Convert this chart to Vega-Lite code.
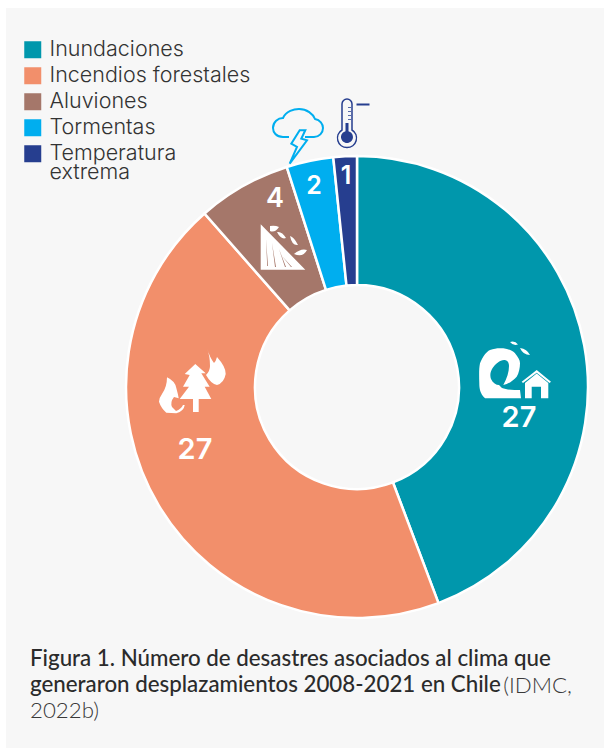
{
"$schema":"https://vega.github.io/schema/vega-lite/v6.json",
"width":598,"height":740,
"autosize":{"type":"none"},
"padding":{"left":6,"top":8,"right":0,"bottom":0},
"background":"#ffffff",
"view":{"fill":"#f7f7f7","stroke":null},
"config":{"style":{"guide-label":{"lineHeight":19}}},
"title":{"text":["Figura 1. Número de desastres asociados al clima que","generaron desplazamientos 2008-2021 en Chile"],"subtitle":"2022b)","orient":"top","anchor":"start","frame":"group","dx":24,"dy":714,"offset":0,"font":"Lato","fontSize":22.3,"fontWeight":500,"color":"#2b2b2b","lineHeight":26,"subtitleFont":"Lato","subtitleFontSize":22.3,"subtitleFontWeight":300,"subtitleColor":"#3a3a3a","subtitlePadding":3,"subtitleLineHeight":26},
"data":{"values":[
{"categoria":"Inundaciones","valor":27,"orden":1},
{"categoria":"Incendios forestales","valor":27,"orden":2},
{"categoria":"Aluviones","valor":4,"orden":3},
{"categoria":"Tormentas","valor":2,"orden":4},
{"categoria":"Temperatura extrema","valor":1,"orden":5}
]},
"layer":[
{"mark":{"type":"arc","outerRadius":231,"innerRadius":102,"stroke":"#ffffff","strokeWidth":2.5},
"encoding":{
"x":{"value":351},"y":{"value":379},
"theta":{"field":"valor","type":"quantitative","stack":true,"scale":{"domain":[0,61]}},
"order":{"field":"orden","type":"ordinal"},
"color":{"field":"categoria","type":"nominal","scale":{"domain":["Inundaciones","Incendios forestales","Aluviones","Tormentas","Temperatura extrema"],"range":["#0097ac","#f28f6b","#a5776a","#00aeef","#263e8f"]},
"legend":{"title":null,"orient":"none","legendX":16,"legendY":31,"symbolType":"square","symbolSize":289,"symbolStrokeWidth":0,"symbolOpacity":1,"labelFont":"Inter","labelFontSize":21.5,"labelFontWeight":300,"labelColor":"#333333","labelLimit":300,"rowPadding":3,"labelOffset":6,"labelExpr":"datum.label=='Temperatura extrema'?['Temperatura','extrema']:datum.label"}}
}},
{"transform":[{"filter":"datum.orden==1"}],"mark":{"type":"text","font":"Inter","fontWeight":600,"fontSize":29,"color":"#ffffff"},"encoding":{"x":{"value":513},"y":{"value":410},"text":{"field":"valor"}}},
{"transform":[{"filter":"datum.orden==2"}],"mark":{"type":"text","font":"Inter","fontWeight":600,"fontSize":29,"color":"#ffffff"},"encoding":{"x":{"value":189},"y":{"value":442},"text":{"field":"valor"}}},
{"transform":[{"filter":"datum.orden==3"}],"mark":{"type":"text","font":"Inter","fontWeight":600,"fontSize":27,"color":"#ffffff"},"encoding":{"x":{"value":269},"y":{"value":191},"text":{"field":"valor"}}},
{"transform":[{"filter":"datum.orden==4"}],"mark":{"type":"text","font":"Inter","fontWeight":600,"fontSize":25,"color":"#ffffff"},"encoding":{"x":{"value":308},"y":{"value":178},"text":{"field":"valor"}}},
{"transform":[{"filter":"datum.orden==5"}],"mark":{"type":"text","font":"Inter","fontWeight":600,"fontSize":25,"color":"#ffffff"},"encoding":{"x":{"value":340},"y":{"value":168},"text":{"field":"valor"}}},
{"transform":[{"filter":"datum.orden==1"}],"mark":{"type":"point","size":4,"filled":true,"opacity":1,"color":"#ffffff","shape":"M-30,28.3 C-35,24 -35.7,18 -35.7,13.3 C-36,4 -36,-2 -35,-6.7 C-32,-14 -29,-18 -25,-20 C-20,-22 -16,-22 -11.7,-21.7 C-6,-21 -2,-19 0,-16.7 C3,-13 5,-10 5,-6.7 C5,-2 4,3 1.7,6.7 C-2,11 -7,14 -11.7,15 C-8,8 -6,2 -6,-4 C-6,-8 -8,-10 -11,-10 C-15,-10 -20,-6 -23,-1 C-25,3 -25,6 -24,9 C-22,13 -19,15 -16,15 L-13,18 C-8,20 0,20 5,20 L6,28.3Z M-5,-28 Q0,-29.5 3,-25.5 Q-2,-24 -5,-28Z M5,-22 Q12,-21 15,-15 Q8,-15 5,-22Z M10,13 L21.7,3.5 L33.3,13 L33.3,28.3 L26,28.3 L26,16.7 L16.7,16.7 L16.7,28.3 L10,28.3Z M6.7,11.7 L21.7,0 L36,11.7 L34.5,13 L21.7,2.8 L8,13Z"},"encoding":{"x":{"value":509},"y":{"value":362}}},
{"transform":[{"filter":"datum.orden==2"}],"mark":{"type":"point","size":4,"filled":true,"opacity":1,"color":"#ffffff","shape":"M2.3,-16 L12.7,-6.7 L8.3,-6.7 L16.7,6.7 L11.7,6.7 L18.3,19 L5.7,19 L5.7,32 L0,32 L0,19 L-13.3,19 L-4,6.7 L-10,6.7 L-3.3,-5 L-8.3,-6Z M14,-31.7 Q17,-22 21,-17 Q23,-19 24,-23 Q33,-13 32.7,-6 Q31,3 24,5 Q18,4 13,-5 Q17,-9 17,-14 Q17,-24 14,-31.7Z M-26,-2.7 Q-18,1 -16.7,8 Q-15,14 -14.3,18.3 L-19,17 Q-23,22 -21,27 L-17,31 Q-12,29 -10,25 L-8.3,25 Q-9,31 -16.7,33.3 L-26.7,32.7 Q-32,28 -34,21.7 Q-34,18 -31,14 Q-26,7 -26,-2.7Z"},"encoding":{"x":{"value":187},"y":{"value":372}}},
{"transform":[{"filter":"datum.orden==3"}],"mark":{"type":"point","size":4,"filled":true,"opacity":1,"color":"#ffffff","shape":"M-22.3,-22.7 L-22.3,22.7 L22.3,22.7Z M-17,-8 L-15,19 L-15.8,19 Z M-11,-4 L-7,20 L-8,20 Z M-4,2 L3,20 L2,20 Z M-19,6 L-19.5,20 L-18.5,20 Z M-1,9 L9,20 L8,20 Z M-13,-21 Q-8,-22 -4,-20 Q-8,-14 -13,-16 Z M-6,-15 Q-1,-16 3,-9 Q-2,-7 -6,-15Z M7,-11 Q11,-10 15,-2 Q9,-1 7,-11Z M11,7 Q18,1 24,3 Q20,11 11,7Z"},"encoding":{"x":{"value":277},"y":{"value":239}}},
{"transform":[{"filter":"datum.orden==4"}],"mark":{"type":"point","size":4,"filled":false,"opacity":1,"color":"#00aeef","strokeWidth":2,"shape":"M-9,10 H-15 C-22,10 -25,5 -25,1 C-25,-5 -20,-9 -15,-9 C-12,-16 -4,-18 1,-18 C9,-18 15,-13 17,-8 C22,-7 25,-3 25,1 C25,6 21,10 16,10 H7 M-8.3,36.7 L-1,20 L-6.7,16.7 L1.7,3.3 L7.3,3.3 L3.3,11.7 L9,13.3Z"},"encoding":{"x":{"value":292},"y":{"value":119}}},
{"transform":[{"filter":"datum.orden==5"}],"mark":{"type":"point","size":4,"filled":false,"opacity":1,"color":"#263e8f","strokeWidth":1.5,"shape":"M-5,7 V-19 A5,5 0 0 1 5,-19 V7 A9.5,9.5 0 1 1 -5,7Z"},"encoding":{"x":{"value":341},"y":{"value":115}}},
{"transform":[{"filter":"datum.orden==5"}],"mark":{"type":"point","size":4,"filled":true,"opacity":1,"color":"#263e8f","shape":"M-1.5,0 H1.5 V8.2 A6,6 0 1 1 -1.5,8.2Z M9.5,-19.5 H22.5 V-17.4 H9.5Z M1,-16 H4 V-15.2 H1Z M1,-12 H4 V-11.2 H1Z M1,-8 H4 V-7.2 H1Z M1,-4 H4 V-3.2 H1Z"},"encoding":{"x":{"value":341},"y":{"value":115}}},
{"transform":[{"filter":"datum.orden==1"}],"mark":{"type":"text","text":"(IDMC,","font":"Lato","fontSize":22.3,"fontWeight":300,"color":"#3a3a3a","align":"right"},"encoding":{"x":{"value":566},"y":{"value":678}}}
]
}
